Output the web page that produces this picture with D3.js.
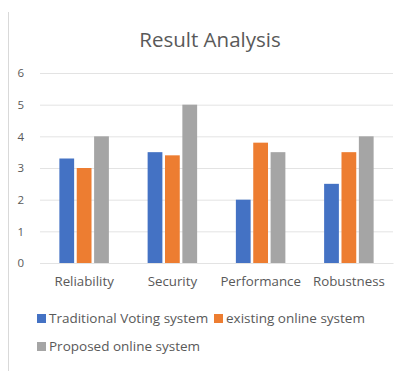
<!DOCTYPE html>
<html>
<head>
<meta charset="utf-8">
<script src="https://cdn.jsdelivr.net/npm/d3@7"></script>
<style>
  body { margin: 0; background: #fff; }
  svg { display: block; font-family: "Open Sans", Lato, sans-serif; }
</style>
</head>
<body>
<svg id="chart"></svg>
<script>
// Data
const categories = ["Reliability", "Security", "Performance", "Robustness"];
const seriesNames = ["Traditional Voting system", "existing online system", "Proposed online system"];
const traditional = [3.3, 3.5, 2.0, 2.5];
const existing = [3.0, 3.4, 3.8, 3.5];
const proposed = [4.0, 5.0, 3.5, 4.0];
const yTicks = [0, 1, 2, 3, 4, 5, 6];
const colors = ["#4472C4", "#ED7D31", "#A5A5A5"];

const W = 398, H = 371;
const margin = { top: 73, right: 5, bottom: 108, left: 40 };
const width = W - margin.left - margin.right;
const height = H - margin.top - margin.bottom;

const svg = d3.select("#chart").attr("width", W).attr("height", H);

// chart border (left edge visible)
svg.append("line")
    .attr("x1", 8.5).attr("x2", 8.5)
    .attr("y1", 12).attr("y2", H)
    .attr("stroke", "#d9d9d9");

svg.append("text")
    .attr("x", 210).attr("y", 47)
    .attr("text-anchor", "middle")
    .attr("font-size", 20.5)
    .attr("fill", "#595959")
    .text("Result Analysis");

const g = svg.append("g").attr("transform", `translate(${margin.left},${margin.top})`);

const x0 = d3.scaleBand().domain(categories).range([0, width]).paddingInner(0.38).paddingOuter(0.19);
const x1 = d3.scaleBand().domain(seriesNames).range([0, x0.bandwidth()]).padding(0.15);
const y = d3.scaleLinear().domain([0, 6]).range([height, 0]);

// gridlines + y labels
const yAxis = g.append("g")
    .call(d3.axisLeft(y).tickValues(yTicks).tickSize(-width).tickFormat(d3.format("d")));
yAxis.select(".domain").remove();
yAxis.selectAll(".tick line").attr("stroke", "#e3e3e3");
yAxis.selectAll(".tick text")
    .attr("x", -16)
    .attr("font-size", 11.5)
    .attr("fill", "#595959")
    .attr("font-family", "'Open Sans', sans-serif");

const rows = categories.map((c, i) => ({
    cat: c,
    values: [traditional[i], existing[i], proposed[i]]
}));

const groups = g.selectAll(".grp")
    .data(rows)
    .enter().append("g")
    .attr("transform", d => `translate(${x0(d.cat)},0)`);

groups.selectAll("rect")
    .data(d => d.values.map((v, j) => ({ name: seriesNames[j], v, j })))
    .enter().append("rect")
    .attr("x", d => x1(d.name))
    .attr("width", x1.bandwidth())
    .attr("y", d => y(d.v))
    .attr("height", d => height - y(d.v))
    .attr("fill", d => colors[d.j]);

// x labels
const xAxis = g.append("g")
    .attr("transform", `translate(0,${height})`)
    .call(d3.axisBottom(x0).tickSize(0).tickPadding(14));
xAxis.select(".domain").attr("stroke", "#e3e3e3");
xAxis.selectAll(".tick text")
    .attr("font-size", 13.3)
    .attr("fill", "#595959")
    .attr("font-family", "'Open Sans', sans-serif");

// legend
const legendPos = [[37, 323], [214, 323], [37, 351]];
const legend = svg.selectAll(".leg")
    .data(seriesNames)
    .enter().append("g")
    .attr("transform", (d, i) => `translate(${legendPos[i][0]},${legendPos[i][1]})`);
legend.append("rect")
    .attr("x", 0).attr("y", -9)
    .attr("width", 9).attr("height", 9)
    .attr("fill", (d, i) => colors[i]);
legend.append("text")
    .attr("x", 12).attr("y", 0)
    .attr("font-size", 13.5)
    .attr("fill", "#595959")
    .text(d => d);
</script>
</body>
</html>
